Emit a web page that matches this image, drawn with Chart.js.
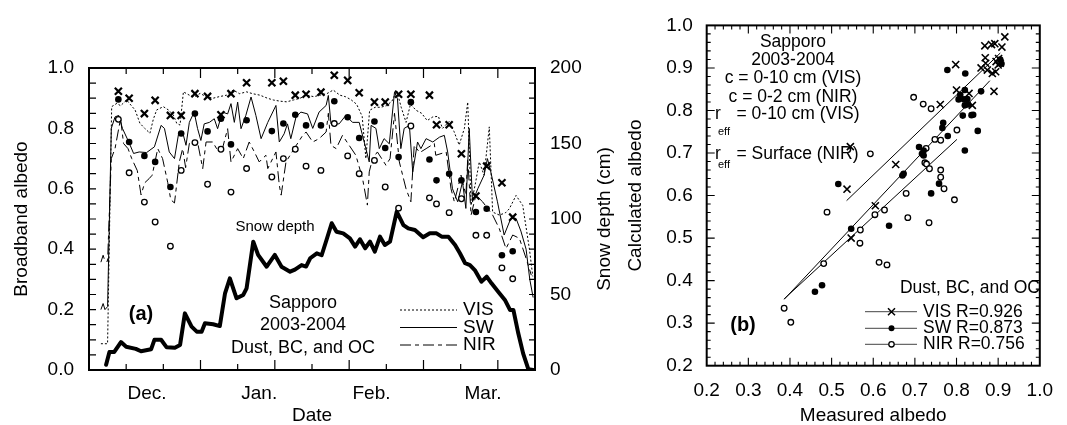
<!DOCTYPE html>
<html>
<head>
<meta charset="utf-8">
<script src="https://cdn.jsdelivr.net/npm/chart.js@4.4.1/dist/chart.umd.min.js"></script>
<style>
  html, body { margin: 0; padding: 0; background: #fff; }
  #wrap { position: relative; width: 1067px; height: 425px; overflow: hidden; }
  #left { position: absolute; left: 0; top: 0; }
  #right { position: absolute; left: 625px; top: 0; }
</style>
</head>
<body>
<div id="wrap">
  <canvas id="left" width="625" height="425"></canvas>
  <canvas id="right" width="442" height="425"></canvas>
</div>
<script>
/**
 * Panel (a) data: day of season (0 = mid Nov.), albedo, snow depth.
 */
const monthNames = ['Dec.', 'Jan.', 'Feb.', 'Mar.'];
const monthPos = [15.6, 45.8, 76.0, 106.0];
const dayTicks = [10, 20, 30, 40, 50, 60, 70, 80, 90, 100, 110];
const albedoTicks = [0, 0.2, 0.4, 0.6, 0.8, 1.0];
const depthTicks = [0, 50, 100, 150, 200];

const visCalc = [[3.2,0.087],[5.0,0.087],[6.1,0.872],[7.5,0.883],[8.5,0.875],[10.1,0.894],[12.4,0.861],[13.7,0.817],[15.0,0.80],[16.4,0.784],[17.3,0.83],[18.2,0.861],[20.0,0.872],[21.5,0.86],[22.7,0.844],[23.6,0.817],[24.5,0.811],[25.4,0.921],[27.0,0.91],[28.5,0.905],[29.9,0.916],[31.5,0.905],[33.4,0.90],[35.0,0.905],[37.0,0.91],[38.8,0.927],[40.5,0.915],[42.4,0.921],[44.0,0.915],[46.0,0.91],[48.0,0.90],[49.6,0.894],[51.5,0.89],[53.2,0.888],[55.0,0.894],[56.8,0.90],[58.6,0.91],[60.5,0.905],[62.1,0.91],[64.0,0.915],[65.7,0.927],[67.5,0.91],[69.0,0.905],[70.5,0.895],[72.0,0.88],[73.5,0.84],[74.5,0.70],[75.5,0.86],[77.0,0.87],[78.5,0.87],[80.0,0.875],[81.5,0.89],[82.8,0.925],[84.0,0.87],[85.3,0.82],[86.5,0.88],[88.0,0.86],[89.5,0.85],[91.0,0.826],[92.5,0.838],[94.0,0.84],[95.1,0.80],[96.9,0.823],[98.2,0.79],[99.6,0.745],[101.0,0.80],[101.9,0.887],[102.8,0.545],[104.0,0.62],[105.0,0.689],[106.3,0.645],[107.7,0.805],[108.6,0.523],[110.4,0.513],[112.0,0.52],[113.1,0.534],[114.9,0.578],[116.7,0.545],[118.5,0.40],[119.4,0.31]];

const swCalc = [[3.2,0.20],[3.8,0.22],[4.3,0.20],[5.0,0.21],[6.0,0.80],[7.0,0.838],[8.0,0.843],[9.0,0.80],[10.7,0.755],[12.0,0.717],[13.5,0.722],[15.5,0.72],[17.6,0.739],[19.4,0.81],[20.3,0.80],[21.6,0.722],[23.0,0.70],[24.1,0.782],[25.2,0.787],[26.1,0.744],[27.0,0.82],[28.3,0.854],[29.2,0.80],[30.1,0.76],[31.0,0.815],[32.4,0.82],[33.7,0.832],[34.6,0.799],[35.9,0.854],[37.3,0.848],[38.2,0.882],[39.1,0.82],[40.0,0.887],[40.9,0.799],[42.2,0.843],[43.6,0.904],[44.9,0.843],[46.3,0.766],[48.1,0.82],[50.3,0.876],[51.2,0.755],[52.5,0.782],[53.4,0.815],[54.3,0.766],[55.7,0.838],[57.0,0.854],[58.8,0.848],[60.2,0.80],[61.9,0.854],[63.8,0.876],[64.4,0.909],[65.1,0.815],[67.3,0.815],[69.1,0.843],[70.9,0.82],[72.7,0.82],[74.5,0.733],[75.4,0.689],[75.9,0.81],[77.2,0.80],[78.1,0.733],[79.4,0.766],[80.8,0.749],[82.2,0.92],[83.0,0.898],[83.9,0.733],[84.8,0.80],[86.2,0.81],[87.1,0.656],[88.4,0.755],[89.3,0.733],[90.7,0.766],[92.5,0.755],[94.3,0.771],[95.6,0.777],[96.5,0.722],[97.8,0.60],[99.2,0.557],[100.5,0.623],[101.4,0.535],[102.3,0.80],[103.2,0.557],[104.6,0.60],[106.3,0.645],[107.2,0.70],[108.1,0.656],[109.9,0.557],[111.7,0.447],[113.5,0.502],[114.9,0.502],[116.2,0.46],[117.6,0.40],[118.6,0.30],[119.5,0.24]];

const nirCalc = [[3.2,0.357],[3.8,0.38],[4.3,0.36],[5.0,0.36],[6.0,0.70],[7.0,0.733],[8.0,0.80],[8.5,0.832],[9.3,0.75],[10.5,0.733],[11.5,0.70],[13.0,0.66],[14.0,0.58],[15.0,0.62],[16.2,0.634],[17.0,0.645],[18.5,0.733],[19.8,0.70],[21.2,0.62],[22.0,0.564],[23.0,0.553],[24.3,0.689],[25.2,0.733],[26.0,0.67],[27.0,0.75],[28.5,0.76],[29.2,0.755],[30.6,0.667],[31.5,0.755],[33.3,0.755],[34.6,0.727],[35.9,0.733],[37.3,0.799],[38.2,0.689],[40.0,0.733],[41.5,0.70],[43.1,0.755],[44.5,0.722],[45.8,0.689],[47.6,0.711],[48.1,0.667],[50.3,0.722],[51.2,0.612],[51.7,0.579],[53.0,0.689],[55.2,0.733],[57.5,0.777],[58.4,0.788],[60.2,0.755],[61.9,0.766],[63.8,0.788],[64.4,0.85],[65.1,0.744],[66.5,0.733],[68.2,0.777],[70.0,0.744],[71.8,0.711],[73.6,0.634],[74.9,0.546],[75.4,0.656],[76.3,0.70],[77.6,0.722],[79.9,0.678],[81.0,0.70],[82.2,0.85],[83.5,0.689],[85.3,0.60],[86.6,0.557],[87.5,0.744],[89.0,0.72],[90.7,0.733],[92.9,0.75],[93.3,0.711],[96.1,0.722],[97.4,0.60],[98.3,0.557],[100.1,0.645],[101.4,0.579],[101.9,0.70],[102.8,0.513],[104.1,0.579],[105.9,0.557],[108.6,0.513],[110.4,0.468],[112.2,0.402],[114.0,0.447],[115.8,0.436],[117.6,0.37],[119.0,0.314]];

const snowDepth = [[4.6,3.5],[5.5,12],[6.8,12],[8.6,18.5],[10.0,15.4],[12.6,14],[14.0,12.4],[16.7,13.7],[17.6,20],[19.4,20],[20.9,15],[23.1,14.8],[24.5,16.6],[25.8,37.5],[27.6,28.7],[29.0,25.4],[30.3,25.4],[31.2,30.9],[33.4,30.3],[35.2,29.1],[36.6,50.8],[37.9,60.7],[39.7,47.5],[41.5,49.7],[42.4,54.1],[44.2,85],[45.5,76.2],[47.8,68.4],[50.0,76.2],[51.8,68.4],[54.1,65.1],[55.4,66.5],[57.2,69.5],[58.4,68.5],[59.5,74],[61.3,77.3],[62.6,76],[63.9,86.1],[65.3,97.2],[66.6,91.6],[68.4,90.5],[70.2,87.2],[71.6,81.7],[72.9,86.6],[74.3,80.6],[75.6,85],[76.9,78.4],[78.3,88.3],[79.6,82.8],[81.0,85],[82.8,104.9],[84.6,96],[85.9,93.8],[87.7,92.7],[89.9,87.9],[91.7,90.5],[93.5,90.5],[94.9,88.3],[96.7,88.3],[98.5,82.8],[99.8,77.3],[101.2,70.7],[102.5,69.5],[103.8,66.2],[105.6,58.5],[107.0,61.8],[108.3,57.4],[110.1,51.9],[111.9,46.4],[113.3,39.7],[114.2,39.7],[115.5,24.3],[116.8,11],[118.2,0.5],[119.5,0]];

const measDays = [7.9,10.8,14.9,17.8,21.9,24.8,28.5,31.9,35.5,38.2,42.4,49.2,52.3,55.5,58.4,62.4,66.0,69.6,72.7,76.8,79.7,83.3,86.6,91.6,93.5,96.9,100.2,104.1,107.0,111.1,114.0];
const visMeas = [0.923,0.90,0.849,0.893,0.843,0.843,0.915,0.906,0.845,0.915,0.951,0.951,0.956,0.91,0.913,0.92,0.976,0.959,0.918,0.887,0.887,0.913,0.913,0.91,0.812,0.812,0.716,0.576,0.675,0.62,0.506];
const swMeas = [0.896,0.755,0.709,0.689,0.606,0.783,0.849,0.79,0.832,0.747,0.827,0.791,0.816,0.845,0.81,0.81,0.89,0.837,0.768,0.823,0.735,0.705,0.887,0.697,0.628,0.65,0.628,0.523,0.534,0.38,0.393];
const nirMeas = [0.83,0.653,0.556,0.49,0.41,0.661,0.753,0.615,0.731,0.589,0.667,0.639,0.70,0.731,0.675,0.661,0.816,0.709,0.65,0.694,0.606,0.536,0.808,0.57,0.55,0.521,0.567,0.446,0.446,0.338,0.302];

/**
 * Panel (b) data: measured vs calculated albedo.
 */
const scatterTicks = [0.2, 0.3, 0.4, 0.5, 0.6, 0.7, 0.8, 0.9, 1.0];
const visPairs = [[0.916,0.973],[0.868,0.952],[0.884,0.955],[0.892,0.957],[0.909,0.949],[0.869,0.924],[0.870,0.911],[0.859,0.900],[0.874,0.895],[0.886,0.887],[0.894,0.891],[0.901,0.922],[0.905,0.911],[0.900,0.907],[0.798,0.908],[0.800,0.848],[0.890,0.845],[0.761,0.814],[0.838,0.812],[0.654,0.673],[0.545,0.715],[0.537,0.615],[0.605,0.576],[0.547,0.500],[0.830,0.840],[0.895,0.915]];
const swPairs = [[0.778,0.895],[0.821,0.887],[0.859,0.845],[0.820,0.848],[0.809,0.837],[0.805,0.826],[0.818,0.826],[0.826,0.827],[0.820,0.812],[0.828,0.814],[0.815,0.788],[0.840,0.790],[0.836,0.789],[0.768,0.771],[0.766,0.759],[0.779,0.740],[0.851,0.752],[0.710,0.714],[0.717,0.698],[0.721,0.694],[0.721,0.706],[0.820,0.706],[0.670,0.647],[0.673,0.651],[0.758,0.628],[0.739,0.605],[0.516,0.627],[0.547,0.522],[0.638,0.529],[0.460,0.374],[0.477,0.389],[0.905,0.920],[0.908,0.910]];
const nirPairs = [[0.697,0.831],[0.720,0.815],[0.739,0.804],[0.801,0.754],[0.748,0.732],[0.762,0.730],[0.727,0.711],[0.724,0.677],[0.728,0.674],[0.735,0.663],[0.762,0.660],[0.762,0.643],[0.770,0.616],[0.795,0.590],[0.679,0.605],[0.593,0.698],[0.489,0.561],[0.604,0.555],[0.627,0.566],[0.569,0.519],[0.568,0.488],[0.481,0.440],[0.614,0.443],[0.633,0.437],[0.386,0.335],[0.402,0.302],[0.683,0.548],[0.734,0.536]];
const visFit = [[0.536,0.588],[0.905,0.935]];
const swFit = [[0.386,0.356],[0.880,0.870]];
const nirFit = [[0.386,0.357],[0.801,0.732]];

/**
 * Helpers.
 */
const FONT = "'Liberation Sans', Arial, Helvetica, sans-serif";
Chart.defaults.font.family = FONT;
Chart.defaults.color = '#000';

const pts = (arr) => arr.map(([x, y]) => ({ x, y }));
const zipPts = (xs, ys) => xs.map((x, i) => ({ x, y: ys[i] }));

const VIS_DASH = [2, 2];
const NIR_DASH = [11, 4, 4, 4];

function text(ctx, str, x, y, size, align = 'center', bold = false) {
  ctx.font = `${bold ? 'bold ' : ''}${size}px ${FONT}`;
  ctx.textAlign = align;
  ctx.textBaseline = 'middle';
  ctx.fillStyle = '#000';
  ctx.fillText(str, x, y);
}

function vtext(ctx, str, x, y, size) {
  ctx.save();
  ctx.translate(x, y);
  ctx.rotate(-Math.PI / 2);
  text(ctx, str, 0, 0, size);
  ctx.restore();
}

function marker(ctx, style, x, y) {
  ctx.save();
  ctx.strokeStyle = '#000';
  ctx.fillStyle = '#000';
  if (style === 'x') {
    ctx.lineWidth = 1.5;
    ctx.beginPath();
    ctx.moveTo(x - 3.5, y - 3.5); ctx.lineTo(x + 3.5, y + 3.5);
    ctx.moveTo(x - 3.5, y + 3.5); ctx.lineTo(x + 3.5, y - 3.5);
    ctx.stroke();
  } else {
    ctx.beginPath();
    ctx.arc(x, y, style === 'filled' ? 3 : 2.7, 0, Math.PI * 2);
    if (style === 'filled') {
      ctx.fill();
    } else {
      ctx.fillStyle = '#fff';
      ctx.fill();
      ctx.lineWidth = 1.3;
      ctx.stroke();
    }
  }
  ctx.restore();
}

const noLabelGrid = { display: false, drawTicks: false };

/**
 * Panel (a) decorations: frame, inward ticks, notes and legend.
 */
const leftDecor = {
  id: 'leftDecor',
  afterDraw(chart) {
    const { ctx, chartArea: a } = chart;
    const { x, y, y2 } = chart.scales;
    ctx.save();
    ctx.strokeStyle = '#000';
    ctx.lineWidth = 1.2;
    ctx.beginPath();
    dayTicks.forEach((d) => {
      const px = x.getPixelForValue(d);
      const len = (d % 20 === 10 && d > 10) ? 10 : 6;
      ctx.moveTo(px, a.bottom); ctx.lineTo(px, a.bottom - len);
      ctx.moveTo(px, a.top); ctx.lineTo(px, a.top + len);
    });
    for (let i = 1; i < 20; i += 1) {
      const py = y.getPixelForValue(i * 0.05);
      ctx.moveTo(a.left, py); ctx.lineTo(a.left + 7, py);
    }
    for (let i = 1; i < 20; i += 1) {
      const py = y2.getPixelForValue(i * 10);
      ctx.moveTo(a.right, py); ctx.lineTo(a.right - 6, py);
    }
    ctx.stroke();
    ctx.lineWidth = 2;
    ctx.strokeRect(a.left, a.top, a.right - a.left, a.bottom - a.top);

    // axis titles
    vtext(ctx, 'Broadband albedo', 22, (a.top + a.bottom) / 2, 19);
    vtext(ctx, 'Snow depth (cm)', 605, (a.top + a.bottom) / 2, 19);
    text(ctx, 'Date', (a.left + a.right) / 2, 416, 19);

    // notes
    text(ctx, 'Snow depth', 275, 227, 15);
    text(ctx, '(a)', 141, 314, 20, 'center', true);
    text(ctx, 'Sapporo', 303, 303, 18);
    text(ctx, '2003-2004', 303, 325.5, 18);
    text(ctx, 'Dust, BC, and OC', 303, 348, 18);

    // legend
    const rows = [['VIS', VIS_DASH, 310], ['SW', [], 327.5], ['NIR', NIR_DASH, 345]];
    rows.forEach(([label, dash, ly]) => {
      ctx.save();
      ctx.lineWidth = 1;
      ctx.setLineDash(dash);
      ctx.beginPath();
      ctx.moveTo(400, ly); ctx.lineTo(457, ly);
      ctx.stroke();
      ctx.restore();
      text(ctx, label, 463, ly, 19, 'left');
    });
    ctx.restore();
  },
};

/**
 * Panel (b) decorations.
 */
const rightDecor = {
  id: 'rightDecor',
  afterDraw(chart) {
    const { ctx, chartArea: a } = chart;
    const { x, y } = chart.scales;
    ctx.save();
    ctx.strokeStyle = '#000';
    ctx.lineWidth = 1.1;
    ctx.beginPath();
    for (let i = 1; i < 40; i += 1) {
      const v = 0.2 + i * 0.02;
      const len = i % 5 === 0 ? 8 : 4;
      const px = x.getPixelForValue(v);
      const py = y.getPixelForValue(v);
      ctx.moveTo(px, a.bottom); ctx.lineTo(px, a.bottom - len);
      ctx.moveTo(px, a.top); ctx.lineTo(px, a.top + len);
      ctx.moveTo(a.left, py); ctx.lineTo(a.left + len, py);
      ctx.moveTo(a.right, py); ctx.lineTo(a.right - len, py);
    }
    ctx.stroke();
    ctx.lineWidth = 2;
    ctx.strokeRect(a.left, a.top, a.right - a.left, a.bottom - a.top);

    vtext(ctx, 'Calculated albedo', 11, (a.top + a.bottom) / 2, 19);
    text(ctx, 'Measured albedo', (a.left + a.right) / 2, 416, 19);

    text(ctx, 'Sapporo', 168, 41.7, 17.5);
    text(ctx, '2003-2004', 168, 60, 17.5);
    text(ctx, 'c = 0-10 cm (VIS)', 168, 78.3, 17.5);
    text(ctx, 'c = 0-2 cm (NIR)', 168, 96.7, 17.5);
    text(ctx, 'r', 90, 114, 17.5, 'left');
    text(ctx, 'eff', 93, 131.5, 11, 'left');
    text(ctx, '= 0-10 cm (VIS)', 111.5, 114, 17.5, 'left');
    text(ctx, 'r', 90, 154, 17.5, 'left');
    text(ctx, 'eff', 93, 164.5, 11, 'left');
    text(ctx, '= Surface (NIR)', 111.5, 154, 17.5, 'left');

    text(ctx, '(b)', 118, 325, 20, 'center', true);
    text(ctx, 'Dust, BC, and OC', 415, 288.3, 17.5, 'right');
    const rows = [['x', 'VIS R=0.926', 311.7], ['filled', 'SW R=0.873', 328.3], ['open', 'NIR R=0.756', 344.3]];
    rows.forEach(([style, label, ly]) => {
      ctx.save();
      ctx.strokeStyle = '#444';
      ctx.lineWidth = 1;
      ctx.beginPath();
      ctx.moveTo(240, ly); ctx.lineTo(292, ly);
      ctx.stroke();
      ctx.restore();
      marker(ctx, style, 266.5, ly);
      text(ctx, label, 298, ly, 17.5, 'left');
    });
    ctx.restore();
  },
};

/**
 * Dataset builders.
 */
const lineSet = (data, extra = {}) => ({
  data, showLine: true, pointRadius: 0, pointHoverRadius: 0,
  borderColor: '#000', borderWidth: 1, fill: false, tension: 0, ...extra,
});
const crossSet = (data, r, w) => ({
  data, pointStyle: 'crossRot', pointRadius: r, pointBorderWidth: w,
  borderColor: '#000', backgroundColor: '#000',
});
const dotSet = (data, r) => ({
  data, pointStyle: 'circle', pointRadius: r, pointBorderWidth: 0,
  borderColor: '#000', backgroundColor: '#000',
});
const ringSet = (data, r) => ({
  data, pointStyle: 'circle', pointRadius: r, pointBorderWidth: 1.3,
  borderColor: '#000', backgroundColor: '#fff',
});

const commonOpts = {
  responsive: false,
  maintainAspectRatio: false,
  animation: false,
  events: [],
  plugins: { legend: { display: false }, tooltip: { enabled: false } },
};

/**
 * Panel (a) chart.
 */
new Chart(document.getElementById('left'), {
  type: 'scatter',
  data: {
    datasets: [
      crossSet(zipPts(measDays, visMeas), 5, 2.2),
      dotSet(zipPts(measDays, swMeas), 3.3),
      ringSet(zipPts(measDays, nirMeas), 2.8),
      lineSet(pts(snowDepth), { yAxisID: 'y2', borderWidth: 4, borderJoinStyle: 'round', borderCapStyle: 'round' }),
      lineSet(pts(visCalc), { borderDash: VIS_DASH }),
      lineSet(pts(swCalc)),
      lineSet(pts(nirCalc), { borderDash: NIR_DASH }),
    ],
  },
  options: {
    ...commonOpts,
    layout: { padding: { top: 68, left: 0, right: 0, bottom: 0 } },
    scales: {
      x: {
        type: 'linear', position: 'bottom', min: 0, max: 120,
        grid: noLabelGrid, border: { display: false },
        afterBuildTicks: (s) => { s.ticks = monthPos.map((v) => ({ value: v })); },
        afterFit: (s) => { s.height = 55; },
        ticks: { autoSkip: false, maxRotation: 0, padding: 12, font: { size: 19 }, callback: (v, i) => monthNames[i] },
      },
      y: {
        type: 'linear', position: 'left', min: 0, max: 1,
        grid: noLabelGrid, border: { display: false },
        afterBuildTicks: (s) => { s.ticks = albedoTicks.map((v) => ({ value: v })); },
        afterFit: (s) => { s.width = 89; },
        ticks: { padding: 15, font: { size: 19 }, callback: (v) => v.toFixed(1) },
      },
      y2: {
        type: 'linear', position: 'right', min: 0, max: 200,
        grid: noLabelGrid, border: { display: false },
        afterBuildTicks: (s) => { s.ticks = depthTicks.map((v) => ({ value: v })); },
        afterFit: (s) => { s.width = 90; },
        ticks: { padding: 15, font: { size: 19 }, callback: (v) => String(v) },
      },
    },
  },
  plugins: [leftDecor],
});

/**
 * Panel (b) chart.
 */
new Chart(document.getElementById('right'), {
  type: 'scatter',
  data: {
    datasets: [
      crossSet(pts(visPairs), 5, 1.6),
      dotSet(pts(swPairs), 3.3),
      ringSet(pts(nirPairs), 2.8),
      lineSet(pts(visFit)),
      lineSet(pts(swFit)),
      lineSet(pts(nirFit)),
    ],
  },
  options: {
    ...commonOpts,
    layout: { padding: { top: 21, left: 0, right: 14.3, bottom: 0 } },
    scales: {
      x: {
        type: 'linear', position: 'bottom', min: 0.2, max: 1.0,
        grid: noLabelGrid, border: { display: false },
        afterBuildTicks: (s) => { s.ticks = scatterTicks.map((v) => ({ value: v })); },
        afterFit: (s) => { s.height = 59.3; },
        ticks: { autoSkip: false, maxRotation: 0, padding: 14, font: { size: 19 }, callback: (v) => v.toFixed(1) },
      },
      y: {
        type: 'linear', position: 'left', min: 0.2, max: 1.0,
        grid: noLabelGrid, border: { display: false },
        afterBuildTicks: (s) => { s.ticks = scatterTicks.map((v) => ({ value: v })); },
        afterFit: (s) => { s.width = 81.7; },
        ticks: { padding: 14, font: { size: 19 }, callback: (v) => v.toFixed(1) },
      },
    },
  },
  plugins: [rightDecor],
});
</script>
</body>
</html>
